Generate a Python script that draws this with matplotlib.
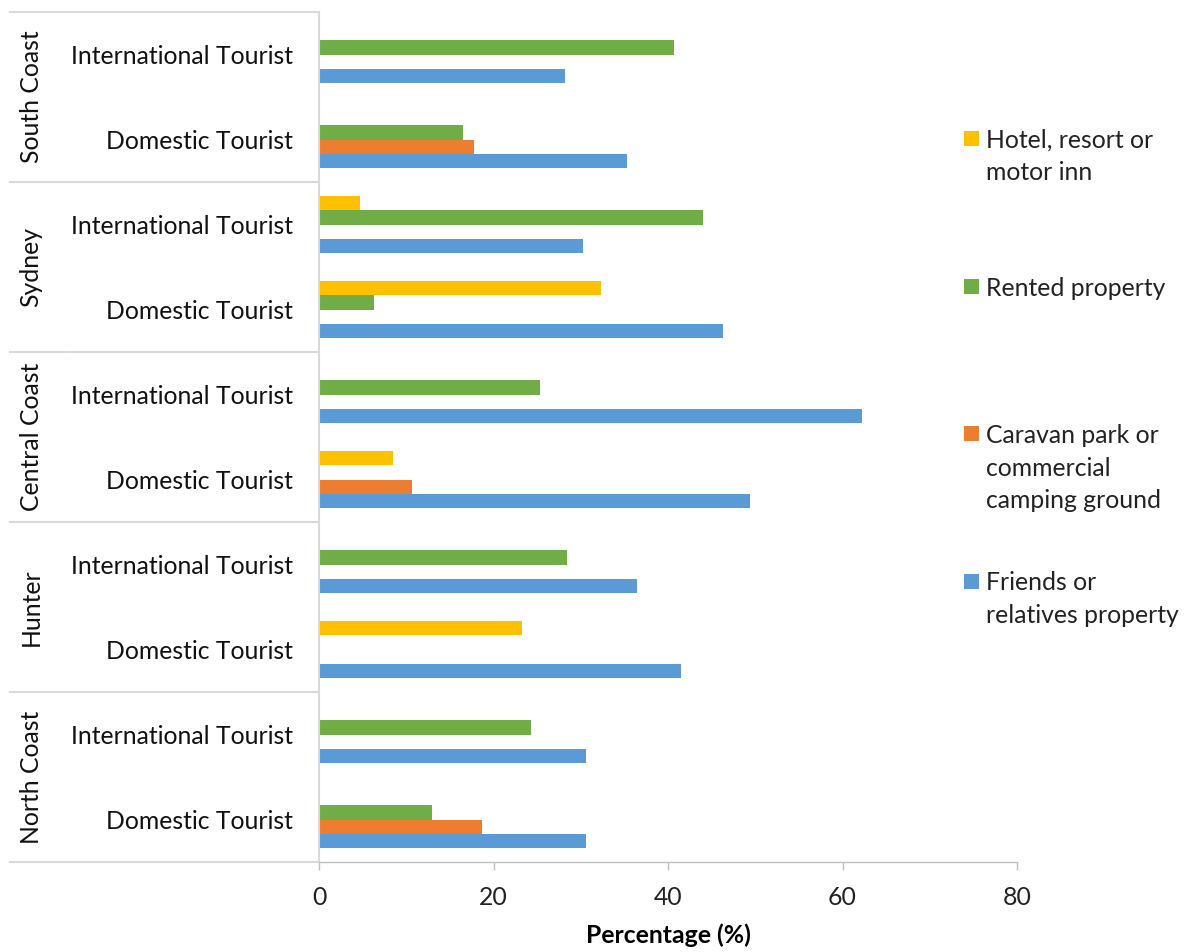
"""
Accommodation used by tourists, by region and tourist type.
"""
import matplotlib.pyplot as plt
import matplotlib.transforms as mtransforms
from matplotlib.patches import Rectangle
import numpy as np

plt.rcParams['font.family'] = ['Lato', 'DejaVu Sans']

regions = ['North Coast', 'Hunter', 'Central Coast', 'Sydney', 'South Coast']
tourist_types = ['Domestic Tourist', 'International Tourist']

# One value per row, bottom to top: each region has Domestic then International.
friends = [30.6, 30.6, 41.5, 36.5, 49.4, 62.2, 46.3, 30.3, 35.3, 28.2]
caravan = [18.7, 0, 0, 0, 10.7, 0, 0, 0, 17.8, 0]
rented = [12.9, 24.3, 0, 28.4, 0, 25.3, 6.3, 44.0, 16.5, 40.7]
hotel = [0, 0, 23.3, 0, 8.5, 0, 32.3, 4.7, 0, 0]

series = [friends, caravan, rented, hotel]
series_names = ['Friends or\nrelatives property',
                'Caravan park or\ncommercial\ncamping ground',
                'Rented property',
                'Hotel, resort or\nmotor inn']
colors = ['#5B9BD5', '#ED7D31', '#70AD47', '#FFC000']

W, H = 1184, 952
fs = 17.8

fig = plt.figure(figsize=(W / 100, H / 100), dpi=100)
ax = fig.add_axes([319 / W, 90 / H, 698 / W, 850 / H])

rows = np.arange(len(friends))
bar_h = 0.165
for i, (vals, c) in enumerate(zip(series, colors)):
    offset = (i - 1.5) * bar_h
    ax.barh(rows + offset, vals, height=bar_h, color=c, linewidth=0)

ax.set_xlim(0, 80)
ax.set_ylim(-0.5, 9.5)

for s in ['top', 'right']:
    ax.spines[s].set_visible(False)
ax.spines['left'].set_color('#d9d9d9')
ax.spines['left'].set_linewidth(1.5)
ax.spines['bottom'].set_color('#bfbfbf')
ax.spines['bottom'].set_linewidth(1)

ax.set_xticks([0, 20, 40, 60, 80])
ax.tick_params(axis='x', direction='out', length=6, width=1, color='#bfbfbf',
               labelsize=fs, labelcolor='#222222', pad=11)
ax.set_yticks(rows)
ax.set_yticklabels([tourist_types[r % 2] for r in rows])
ax.tick_params(axis='y', length=0, labelsize=fs, labelcolor='#111111', pad=18.5)

ax.set_xlabel('Percentage (%)', fontsize=fs, fontweight='bold', labelpad=11)

# Outer level of the category axis: region names and separating lines.
blend = mtransforms.blended_transform_factory(ax.transAxes, ax.transData)
x_left = (10 - 319) / 698
x_mid = (69 - 319) / 698
for k in range(len(regions) + 1):
    y = 2 * k - 0.5
    ax.plot([x_left, x_mid], [y, y], color='#d9d9d9', lw=1.5,
            transform=blend, clip_on=False)
    ax.plot([x_mid + 0.002, 0], [y, y], color='#d9d9d9', lw=1.5,
            transform=blend, clip_on=False)
for k, name in enumerate(regions):
    ax.text((31 - 319) / 698, 2 * k + 0.5, name, rotation=90, ha='center',
            va='center', fontsize=fs, color='#111111', transform=blend)

# Legend, top to bottom in reverse series order.
legend_y = [138.5, 286.5, 433.5, 581]
line_step = 32.5
for y0, name, c in zip(legend_y, series_names[::-1], colors[::-1]):
    fig.add_artist(Rectangle((964 / W, 1 - (y0 + 7.5) / H), 15 / W, 15 / H,
                             transform=fig.transFigure, color=c, lw=0))
    for j, line in enumerate(name.split('\n')):
        fig.text(986 / W, 1 - (y0 + j * line_step) / H, line, fontsize=fs,
                 va='center_baseline', ha='left', color='#222222')

fig.savefig('out.png', dpi=100)
